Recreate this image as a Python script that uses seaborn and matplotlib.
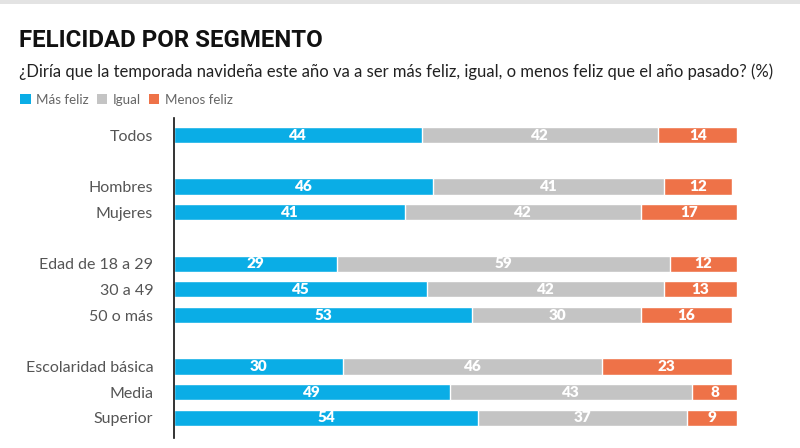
import numpy as np
import pandas as pd
import matplotlib
matplotlib.use('Agg')
import matplotlib.pyplot as plt
import seaborn as sns
from matplotlib.patches import Patch, Rectangle

## DATA
segmentos = ['Todos', 'Hombres', 'Mujeres', 'Edad de 18 a 29', '30 a 49', '50 o más',
             'Escolaridad básica', 'Media', 'Superior']
posiciones = [0, 2, 3, 5, 6, 7, 9, 10, 11]
mas_feliz = [44, 46, 41, 29, 45, 53, 30, 49, 54]
igual = [42, 41, 42, 59, 42, 30, 46, 43, 37]
menos_feliz = [14, 12, 17, 12, 13, 16, 23, 8, 9]

serie_nombres = ['Más feliz', 'Igual', 'Menos feliz']
colores = ['#0aade6', '#c4c4c4', '#ee7248']

df = pd.DataFrame({'seg': segmentos, 'pos': posiciones,
                   'mas': mas_feliz, 'igual': igual, 'menos': menos_feliz})
df['c1'] = df['mas']
df['c2'] = df['mas'] + df['igual']
df['c3'] = df['c2'] + df['menos']

sns.set_style('white')
plt.rcParams['font.family'] = ['Lato', 'DejaVu Sans']

fig = plt.figure(figsize=(8, 4.48), dpi=100)
ax = fig.add_axes([0.2175, 0.0223, 0.704, 0.714])

#### stacked bars drawn as cumulative totals, right to left
for col, color in zip(['c3', 'c2', 'c1'], colores[::-1]):
    sns.barplot(data=df, x=col, y='pos', orient='h', native_scale=True,
                color=color, width=0.63, saturation=1, edgecolor='white',
                linewidth=1, ax=ax)

#### value labels
for _, r in df.iterrows():
    starts = [0, r['c1'], r['c2']]
    for s, v in zip(starts, [r['mas'], r['igual'], r['menos']]):
        ax.text(s + v / 2, r['pos'], f'{v}', ha='center', va='center',
                color='white', fontsize=11, fontweight='heavy')

ax.set_xlim(0, 100)
ax.set_ylim(11.78, -0.66)
ax.set_yticks(posiciones)
ax.set_yticklabels(segmentos, fontsize=11.5, color='#555555')
ax.tick_params(axis='y', length=0, pad=15)
ax.set_xticks([])
ax.set_xlabel('')
ax.set_ylabel('')
for s in ['top', 'right', 'bottom']:
    ax.spines[s].set_visible(False)
ax.spines['left'].set_color('#111111')
ax.spines['left'].set_linewidth(1.2)

#### titles
fig.text(0.024, 0.909, 'FELICIDAD POR SEGMENTO', fontsize=17.3, fontweight='bold',
         color='#111111', va='center', family=['Roboto', 'DejaVu Sans'])
fig.text(0.024, 0.839, '¿Diría que la temporada navideña este año va a ser más feliz, igual, o menos feliz que el año pasado? (%)',
         fontsize=12, color='#222222', va='center')

handles = [Patch(facecolor=c, edgecolor='none') for c in colores]
fig.legend(handles, serie_nombres, loc='center left', bbox_to_anchor=(0.01, 0.777),
           ncol=3, frameon=False, fontsize=9.6, handlelength=0.8, handleheight=0.8,
           handletextpad=0.4, columnspacing=0.6, labelcolor='#666666')

#### top border strip
fig.patches.append(Rectangle((0, 0.992), 1, 0.008, transform=fig.transFigure,
                             facecolor='#e3e3e3', edgecolor='none'))

fig.savefig('out.png', dpi=100)
